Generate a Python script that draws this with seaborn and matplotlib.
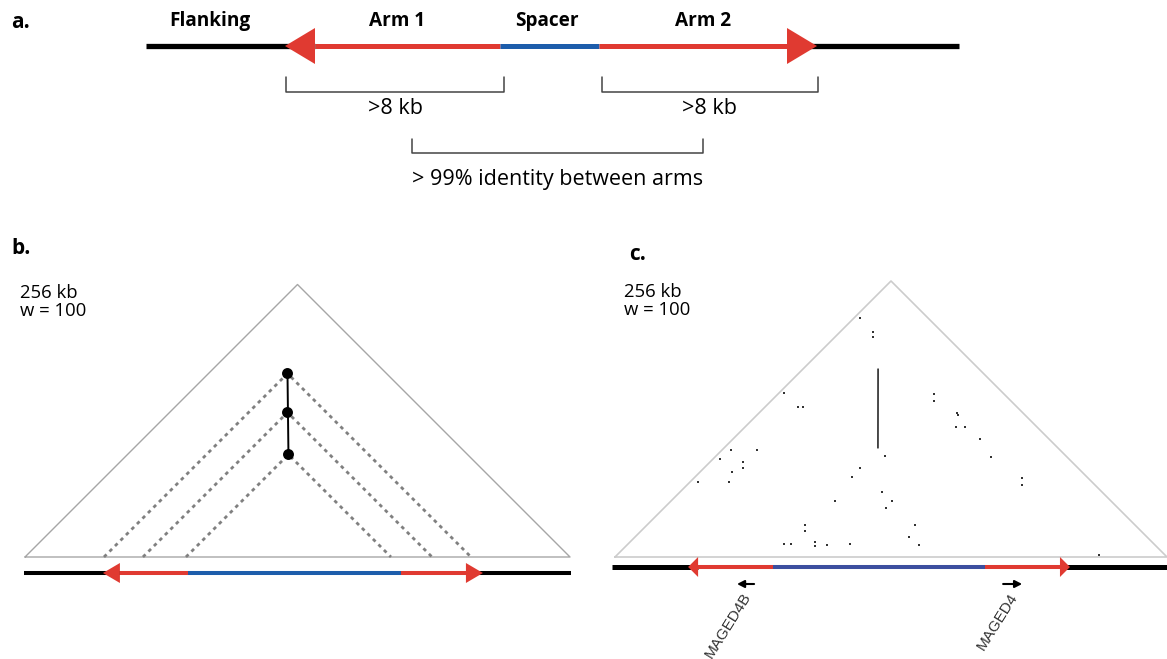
import matplotlib
matplotlib.use("Agg")
import matplotlib.pyplot as plt
import seaborn as sns

sns.set_theme(style="white")
plt.rcParams['font.family'] = ['Open Sans', 'DejaVu Sans']
plt.rcParams['text.color'] = 'black'

W, H = 1167, 659
RED = "#e03a31"
BLUE = "#1d5dab"
BLUE_C = "#3c4f9f"

# a. schematic of an inverted repeat (pixel units)
a_bounds = [146, 285, 500, 599, 817, 959]   # flank start, arm1 tip, spacer start, spacer end, arm2 tip, flank end
a_labels = ["Flanking", "Arm 1", "Spacer", "Arm 2"]
a_label_x = [210, 397, 547, 703]
a_brackets = [(286, 504), (602, 818), (412, 703)]
a_bracket_text = [">8 kb", ">8 kb", "> 99% identity between arms"]

# b. idealised triangle dot plot, 256 kb window (kb)
b_span = 256
b_hits_i = [37.1, 55.4, 75.6]
b_hits_j = [209.5, 191.2, 171.9]
b_arms = [(36.6, 76.6), (176.6, 215.1)]

# c. real triangle dot plot around MAGED4 / MAGED4B (kb)
c_span = 256
c_arms = [(33.9, 73.3), (171.6, 211.0)]
c_ir_i = [34.8, 71.4]
c_ir_j = [209.2, 172.5]
c_hits_i = [2.8, 15.3, 17.6, 2.3, 15.3, 17.6, 4.2, 16.2, 3.2, 15.3, 18.1, 14.8, 3.7, 18.1,
            78.4, 72.3, 72.8, 152.1, 155.4, 93.7, 76.1, 102.5, 103.0, 73.3, 76.1, 124.3,
            127.1, 72.3, 75.6, 85.8, 87.7, 92.8, 103.0, 135.4, 223.5, 72.3, 75.6, 91.8,
            93.2, 97.9, 102.0, 114.6, 128.0]
c_hits_j = [224.5, 224.0, 221.7, 154.4, 154.4, 156.8, 103.4, 115.5, 94.1, 103.4, 100.6, 93.7, 73.3, 87.7,
            172.1, 154.9, 147.0, 225.4, 222.1, 154.0, 128.0, 154.4, 148.4, 103.0, 100.2, 154.0,
            145.6, 84.4, 87.7, 99.7, 97.9, 103.9, 115.0, 146.6, 225.4, 223.5, 220.3, 225.4,
            224.9, 218.4, 222.6, 224.0, 220.8]
c_genes = ["MAGED4B", "MAGED4"]
c_gene_start = [64.5, 180.0]
c_gene_end = [56.6, 188.8]

fig = plt.figure(figsize=(W / 100, H / 100), dpi=100)
ax = fig.add_axes([0, 0, 1, 1])
ax.set_xlim(0, W)
ax.set_ylim(H, 0)
ax.axis('off')


def kb_axes(left_px, right_px, base_px, span):
    s = (right_px - left_px) / span
    a = fig.add_axes([0, 0, 1, 1])
    a.set_xlim(-left_px / s, (W - left_px) / s)
    a.set_ylim(-(H - base_px) / s, base_px / s)
    a.axis('off')
    a.patch.set_alpha(0)
    return a, s


def genome(a, arms, y, x0, x1, blue, lw, head_len, head_w, black_lw):
    (l0, l1), (r0, r1) = arms
    a.plot([x0, l0 + head_len], [y, y], color='black', lw=black_lw, solid_capstyle='butt')
    a.plot([r1 - head_len, x1], [y, y], color='black', lw=black_lw, solid_capstyle='butt')
    a.plot([l0 + head_len, l1], [y, y], color=RED, lw=lw, solid_capstyle='butt')
    a.plot([l1, r0], [y, y], color=blue, lw=lw, solid_capstyle='butt')
    a.plot([r0, r1 - head_len], [y, y], color=RED, lw=lw, solid_capstyle='butt')
    a.fill([l0, l0 + head_len, l0 + head_len], [y, y + head_w, y - head_w], color=RED, lw=0, zorder=3)
    a.fill([r1, r1 - head_len, r1 - head_len], [y, y + head_w, y - head_w], color=RED, lw=0, zorder=3)


# ---- panel a
ax.text(11, 23, "a.", fontsize=15, fontweight='bold', va='center', ha='left')
genome(ax, [(a_bounds[1], a_bounds[2]), (a_bounds[3], a_bounds[4])], 46,
       a_bounds[0], a_bounds[5], BLUE, 3.6, 30, 18, 3.8)
for lab, x in zip(a_labels, a_label_x):
    ax.text(x, 21, lab, fontsize=13.7, fontweight='bold', ha='center', va='center')
for k, ((x0, x1), txt) in enumerate(zip(a_brackets, a_bracket_text)):
    top, bot = (77, 92) if k < 2 else (139, 153)
    ax.plot([x0, x0, x1, x1], [top, bot, bot, top], color='#444444', lw=1.1)
    ax.text((x0 + x1) / 2, bot + 17 if k < 2 else bot + 26, txt, fontsize=15.5,
            ha='center', va='center')

# ---- panel b
axb, sb = kb_axes(25, 570, 557, b_span)
ax.text(11, 248, "b.", fontsize=15, fontweight='bold', va='center', ha='left')
ax.text(20, 293, "256 kb", fontsize=13.3, va='center', ha='left')
ax.text(20, 311, "w = 100", fontsize=13.3, va='center', ha='left')
axb.plot([0, b_span / 2, b_span, 0], [0, b_span / 2, 0, 0], color='#a6a6a6', lw=1.0)
pos_b = [(i + j) / 2 for i, j in zip(b_hits_i, b_hits_j)]
h_b = [(j - i) / 2 for i, j in zip(b_hits_i, b_hits_j)]
for i, j, p, h in zip(b_hits_i, b_hits_j, pos_b, h_b):
    axb.plot([i, p, j], [0, h, 0], color='#808080', lw=2.0, linestyle=(0, (1.3, 1.5)))
axb.plot([pos_b[0], pos_b[-1]], [h_b[0], h_b[-1]], color='black', lw=1.4)
sns.scatterplot(x=pos_b, y=h_b, ax=axb, s=62, color='black', linewidth=0, zorder=4)
genome(axb, b_arms, -16 / sb, -0.5, b_span + 0.5, BLUE, 2.9, 17 / sb, 10 / sb, 2.9)

# ---- panel c
axc, sc = kb_axes(615, 1167, 557, c_span)
ax.text(629, 255, "c.", fontsize=15, fontweight='bold', va='center', ha='left')
ax.text(624, 292, "256 kb", fontsize=13.3, va='center', ha='left')
ax.text(624, 310, "w = 100", fontsize=13.3, va='center', ha='left')
axc.plot([0, c_span / 2, c_span, 0], [0, c_span / 2, 0, 0], color='#cccccc', lw=1.2)
pos_c = [(i + j) / 2 for i, j in zip(c_hits_i, c_hits_j)]
h_c = [(j - i) / 2 for i, j in zip(c_hits_i, c_hits_j)]
sns.scatterplot(x=pos_c, y=h_c, ax=axc, s=2.5, marker='s', color='#333333', linewidth=0)
axc.plot([(i + j) / 2 for i, j in zip(c_ir_i, c_ir_j)],
         [(j - i) / 2 for i, j in zip(c_ir_i, c_ir_j)], color='black', lw=1.0)
genome(axc, c_arms, -10 / sc, -1.5, c_span + 2, BLUE_C, 2.9, 10 / sc, 10 / sc, 3.6)
for name, g0, g1 in zip(c_genes, c_gene_start, c_gene_end):
    y = -27 / sc
    axc.annotate('', xy=(g1, y), xytext=(g0, y),
                 arrowprops=dict(arrowstyle='-|>,head_length=0.35,head_width=0.18',
                                 color='black', lw=1.5, shrinkA=0, shrinkB=0))
    axc.text((g0 + g1) / 2 + 1, -37 / sc, name, rotation=58, rotation_mode='anchor',
             ha='right', va='center', fontsize=11, color='#333333',
             family=['Liberation Sans', 'DejaVu Sans'])

fig.savefig("out.png", dpi=100, facecolor='white')
